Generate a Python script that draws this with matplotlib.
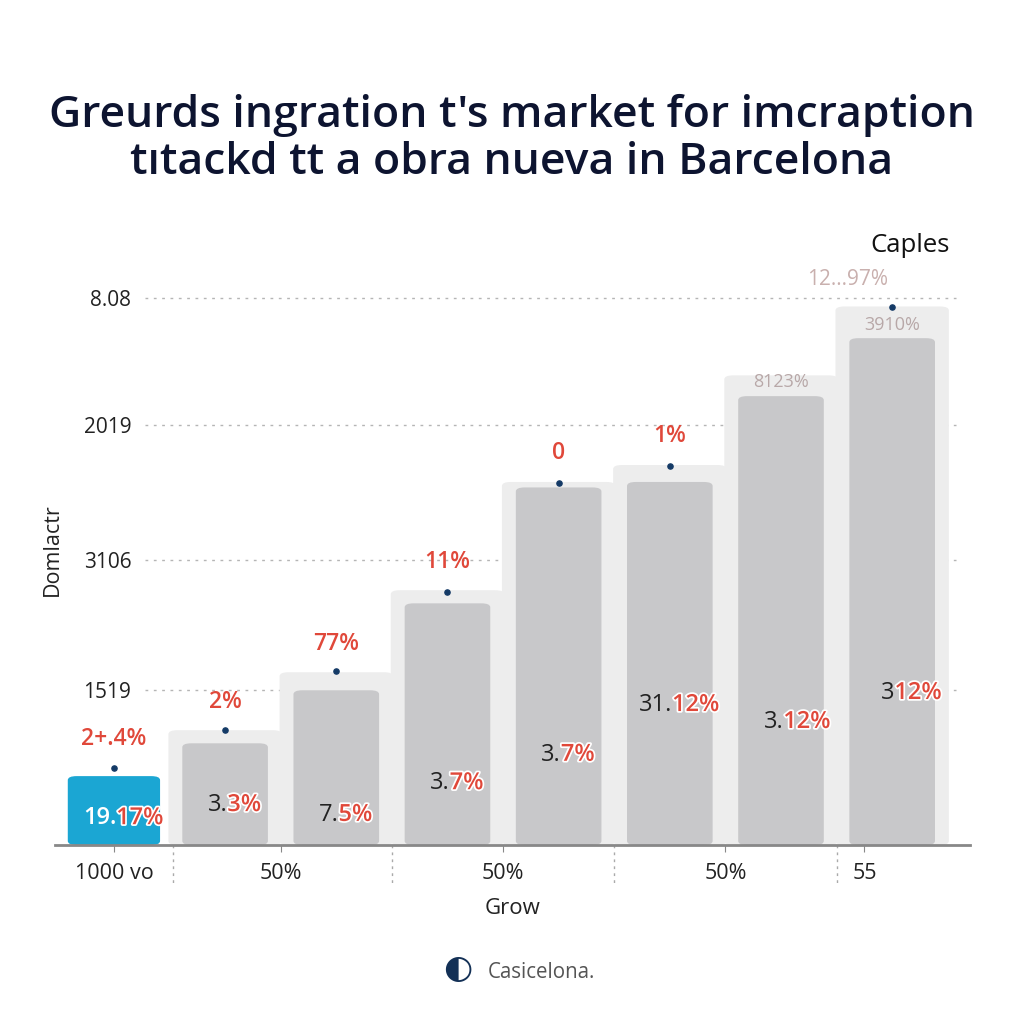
import matplotlib
matplotlib.use("Agg")
import matplotlib.pyplot as plt
import numpy as np
from matplotlib.patches import FancyBboxPatch
import matplotlib.patheffects as pe

# ---- data ----
categories = ["1000 vo", "b2", "b3", "b4", "b5", "b6", "b7", "b8"]
bar_values = [12.6, 18.6, 28.3, 44.2, 65.4, 66.4, 82.1, 92.7]
panel_values = [np.nan, 21.0, 31.6, 46.6, 66.4, 69.5, 85.9, 98.5]
dot_values = [14.1, 21.0, 31.8, 46.3, 66.2, 69.3, np.nan, 98.4]
top_labels = ["2+.4%", "2%", "77%", "11%", "0", "1%", "8123%", "3910%"]
top_label_colors = ["#e0483a", "#e0483a", "#e0483a", "#e0483a", "#e0483a", "#e0483a", "#b8a8a8", "#b8a8a8"]
inner_prefix = ["19.", "3.", "7.", "3.", "3.", "31.", "3.", "3"]
inner_suffix = ["17%", "3%", "5%", "7%", "7%", "12%", "12%", "12%"]
inner_label_y = [4.9, 7.3, 5.5, 11.3, 16.5, 25.6, 22.5, 27.8]
ytick_values = [28.3, 52.1, 76.8, 100.0]
ytick_labels = ["1519", "3106", "2019", "8.08"]
xtick_pos = [0, 1.5, 3.5, 5.5, 6.75]
xtick_labels = ["1000 vo", "50%", "50%", "50%", "55"]
sep_pos = [0.53, 2.5, 4.5, 6.5]

plt.rcParams['font.family'] = ['Open Sans', 'DejaVu Sans']

fig = plt.figure(figsize=(10.24, 10.24), dpi=100)
fig.patch.set_facecolor("white")
ax = fig.add_axes([55/1024, 1-845/1024, (970-55)/1024, (845-260)/1024])
ax.set_facecolor("white")
ax.set_xlim(-0.53, 7.70)
ax.set_ylim(0, 107)

x = np.arange(len(categories))

# grid
for v in ytick_values:
    ax.axhline(v, xmin=0.098, xmax=0.985, color="#b5b5b5", lw=1.0,
               ls=(0, (2, 4)), zorder=0)

def add_rounded(container, colors, z):
    for r, c in zip(list(container), colors):
        bx, by = r.get_x(), r.get_y()
        w, h = r.get_width(), r.get_height()
        if np.isfinite(h) and h > 0:
            p = FancyBboxPatch((bx, by), w, h,
                               boxstyle="round,pad=0,rounding_size=0.08",
                               mutation_aspect=107/8.23*0.7,
                               fc=c, ec="none", zorder=z)
            ax.add_patch(p)
        r.remove()

# background panels
pv = np.array(panel_values, dtype=float)
pc = ax.bar(x, np.nan_to_num(pv), width=1.02, color="#ededed")
add_rounded(pc, ["#ededed"] * len(x), 1)

# inner bars
colors = ["#1ba6d3"] + ["#c8c8ca"] * 7
widths = [0.83] + [0.77] * 7
bc = ax.bar(x, bar_values, width=widths, color=colors)
add_rounded(bc, colors, 2)

# dots
ax.scatter(x, dot_values, s=14, color="#143a66", zorder=4)

# top labels
for i, (lab, col) in enumerate(zip(top_labels, top_label_colors)):
    base = panel_values[i] if np.isfinite(panel_values[i]) else dot_values[i]
    if i == 7:
        base = bar_values[i]
        off = 3
    elif i == 6:
        off = -11
    else:
        off = 12
    red = col == "#e0483a"
    ax.annotate(lab, (i, base), xytext=(0, off), textcoords="offset points",
                ha="center", va="bottom", fontsize=16.5 if red else 13,
                color=col, fontweight="semibold" if red else "normal", zorder=5)
ax.annotate("12...97%", (6.6, 101.5), ha="center", va="bottom", fontsize=15,
            color="#c9b0ae", zorder=5)

# inner labels
for i in range(len(categories)):
    pre_col = "white" if i == 0 else "#222222"
    ax.annotate(inner_prefix[i], (i + 0.02, inner_label_y[i]), ha="right", va="center",
                fontsize=17, color=pre_col, zorder=5,
                fontweight="semibold" if i == 0 else "normal")
    t = ax.annotate(inner_suffix[i], (i + 0.02, inner_label_y[i]), ha="left", va="center",
                    fontsize=17, color="#e0483a", fontweight="semibold", zorder=5)
    t.set_path_effects([pe.withStroke(linewidth=2.5, foreground="white")])

# axes styling
for s in ["top", "right", "left"]:
    ax.spines[s].set_visible(False)
ax.spines["bottom"].set_color("#888888")
ax.spines["bottom"].set_linewidth(2)
ax.set_yticks(ytick_values)
ax.set_yticklabels(ytick_labels, fontsize=15, color="#222222")
ax.tick_params(axis="y", length=0)
ax.yaxis.set_tick_params(pad=-55)
ax.set_xticks(xtick_pos)
ax.set_xticklabels(xtick_labels, fontsize=15.5, color="#222222")
ax.tick_params(axis="x", length=5, color="#888888", pad=8)
for sp in sep_pos:
    ax.plot([sp, sp], [0, -7], color="#aaaaaa", lw=1, ls=(0, (2, 3)),
            clip_on=False, zorder=0)

ax.set_xlabel("Grow", fontsize=16, color="#222222", labelpad=10)
fig.text(52/1024, 1-550/1024, "Domlactr", rotation=90, fontsize=15.5,
         color="#222222", ha="center", va="center")

# title
fig.text(0.5, 1-115/1024, "Greurds ingration t's market for imcraption",
         ha="center", va="center", fontsize=32, fontweight="semibold", color="#0d1430")
fig.text(0.5, 1-163/1024, "tıtackd tt a obra nueva in Barcelona",
         ha="center", va="center", fontsize=32, fontweight="semibold", color="#0d1430")
fig.text(910/1024, 1-245/1024, "Caples", ha="center", va="center",
         fontsize=18.5, color="#111111")

# logo
fig.text(458/1024, 1-970/1024, "\u25d0", ha="center", va="center",
         fontsize=24, color="#133056")
fig.text(488/1024, 1-972/1024, "Casicelona.", ha="left", va="center",
         fontsize=14.8, color="#555555")

fig.savefig("out.png", dpi=100, facecolor="white")
